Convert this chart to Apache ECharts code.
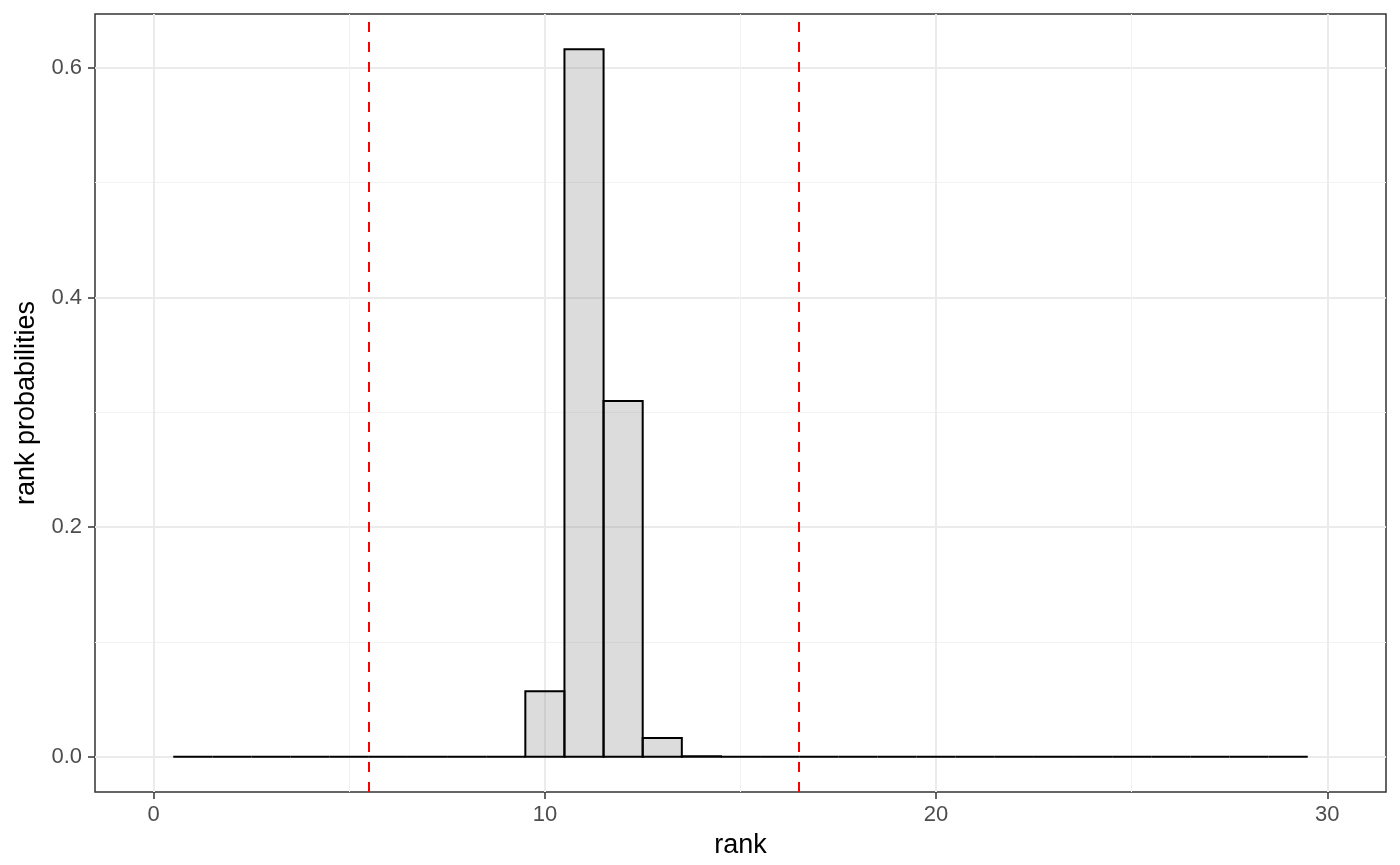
<!DOCTYPE html>
<html>
<head>
<meta charset="utf-8">
<script src="https://cdn.jsdelivr.net/npm/echarts@6/dist/echarts.min.js"></script>
<style>
html,body{margin:0;padding:0;background:#fff;}
#chart{width:1400px;height:865px;}
</style>
</head>
<body>
<div id="chart"></div>
<script>
// ---- data ----
const ranks = [1,2,3,4,5,6,7,8,9,10,11,12,13,14,15,16,17,18,19,20,21,22,23,24,25,26,27,28,29];
const probabilities = [0,0,0,0,0,0,0,0,0,0.057,0.6162,0.3098,0.0162,0.0003,0,0,0,0,0,0,0,0,0,0,0,0,0,0,0];
const refLines = [5.5, 16.5];
const xTicks = [0,10,20,30];
const yTicks = [0,0.2,0.4,0.6];
const xLimits = [0,30];

const xExp = (xLimits[1]-xLimits[0])*0.05;
const yMaxData = Math.max.apply(null, probabilities);
const yExp = yMaxData*0.05;

const font = '"Liberation Sans", Arial, Helvetica, sans-serif';
const chart = echarts.init(document.getElementById('chart'), null, {renderer:'canvas'});

const barData = ranks.map((r,i)=>[r, probabilities[i]]);

chart.setOption({
  animation:false,
  backgroundColor:'#ffffff',
  grid:{left:95, right:14, top:14, bottom:73, show:true, borderColor:'#333333', borderWidth:1.5, backgroundColor:'transparent', containLabel:false},
  xAxis:{
    type:'value', min:xLimits[0]-xExp, max:xLimits[1]+xExp,
    splitNumber:3, minInterval:10, maxInterval:10,
    name:'rank', nameLocation:'middle', nameGap:40,
    nameTextStyle:{fontFamily:font, fontSize:27, color:'#000000'},
    axisLine:{show:false, onZero:false},
    axisTick:{show:true, length:7, inside:false, customValues:xTicks, lineStyle:{color:'#333333', width:1.5}},
    axisLabel:{show:true, customValues:xTicks, margin:12, fontFamily:font, fontSize:22, color:'#4D4D4D',
      formatter:v=>String(Math.round(v))},
    splitLine:{show:true, lineStyle:{color:'#EBEBEB', width:2}},
    minorTick:{show:false, splitNumber:2},
    minorSplitLine:{show:true, lineStyle:{color:'#F2F2F2', width:1}}
  },
  yAxis:{
    type:'value', min:-yExp, max:yMaxData+yExp,
    splitNumber:3, minInterval:0.2, maxInterval:0.2,
    name:'rank probabilities', nameLocation:'middle', nameGap:50, nameRotate:90,
    nameTextStyle:{fontFamily:font, fontSize:27, color:'#000000'},
    axisLine:{show:false, onZero:false},
    axisTick:{show:true, length:7, inside:false, customValues:yTicks, lineStyle:{color:'#333333', width:1.5}},
    axisLabel:{show:true, customValues:yTicks, margin:13, fontFamily:font, fontSize:22, color:'#4D4D4D',
      formatter:v=>v.toFixed(1)},
    splitLine:{show:true, lineStyle:{color:'#EBEBEB', width:2}},
    minorTick:{show:false, splitNumber:2},
    minorSplitLine:{show:true, lineStyle:{color:'#F2F2F2', width:1}}
  },
  series:[
    {
      type:'custom',
      data:barData,
      encode:{x:0, y:1},
      z:2,
      renderItem:function(params, api){
        const x = api.value(0), y = api.value(1);
        const p0 = api.coord([x-0.5, 0]);
        const p1 = api.coord([x+0.5, y]);
        return {
          type:'rect',
          shape:{x:p0[0], y:p1[1], width:p1[0]-p0[0], height:p0[1]-p1[1]},
          style:{fill:'rgba(150,150,150,0.33)', stroke:'#000000', lineWidth:2}
        };
      }
    },
    {
      type:'line',
      data:[],
      z:3,
      markLine:{
        silent:true, symbol:['none','none'], label:{show:false},
        lineStyle:{color:'#FF0000', type:[10,10], width:2},
        data:refLines.map(v=>({xAxis:v}))
      }
    }
  ]
});
</script>
</body>
</html>
